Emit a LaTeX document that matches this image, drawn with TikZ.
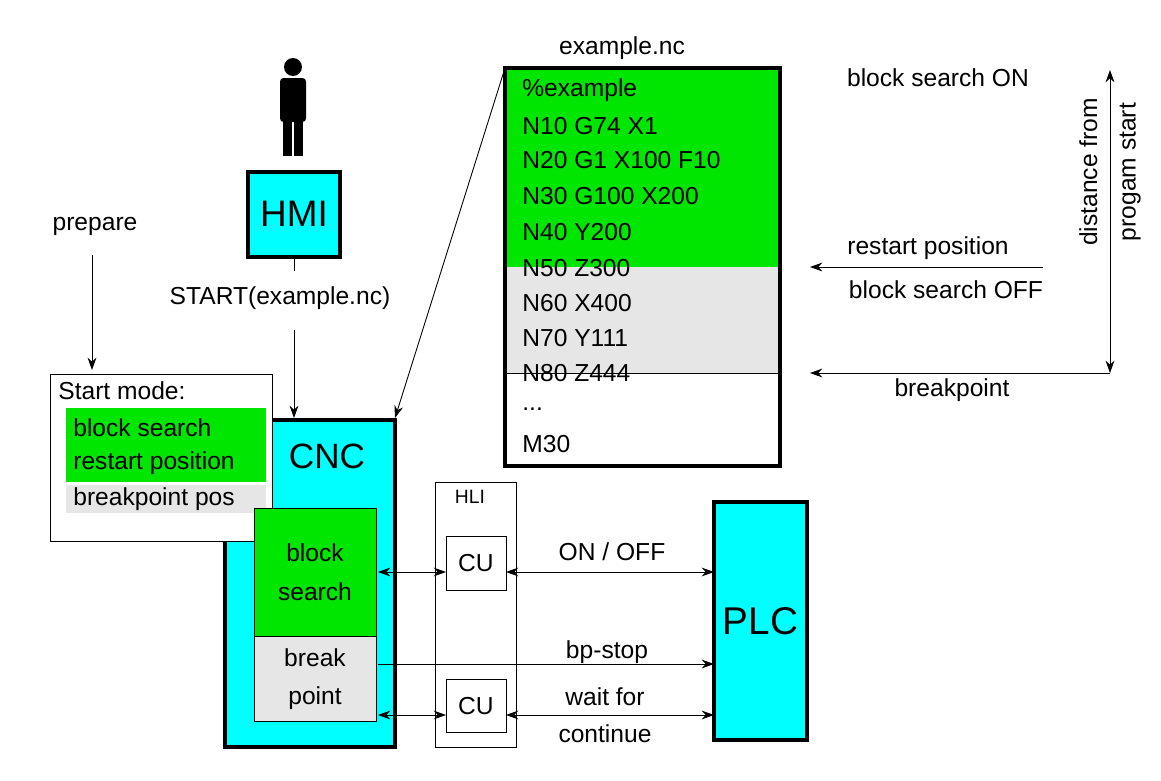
\documentclass[tikz,border=0pt]{standalone}
\usepackage{fontspec}
\setmainfont{Liberation Sans}
\usetikzlibrary{arrows.meta}
\definecolor{cy}{RGB}{0,255,255}
\definecolor{gr}{RGB}{0,230,0}
\definecolor{gy}{RGB}{230,230,230}
\begin{document}
\begin{tikzpicture}[x=0.02cm,y=-0.02cm,
  thick box/.style={draw,line width=2.2pt},
  thin box/.style={draw,line width=0.5pt},
  t/.style={font=\fontsize{14}{16}\selectfont,inner sep=0pt},
  arr/.style={-{Stealth[length=7pt,width=5pt]},line width=0.5pt},
  darr/.style={{Stealth[length=7pt,width=5pt]}-{Stealth[length=7pt,width=5pt]},line width=0.5pt}]
\useasboundingbox (0,0) rectangle (1161,781);
% person
\fill (293,67) circle (9);
\fill[rounded corners=2pt] (280,78) rectangle (306,122);
\fill (283,118) rectangle (292,156);
\fill (294,118) rectangle (303,156);
% HMI
\path[thick box,fill=cy] (248,172) rectangle (340,257);
\node[font=\fontsize{21}{24}\selectfont] (hmi) at (294,214) {HMI};
\coordinate (hb) at (294,257);
\coordinate (hb2) at (294,271);
\draw[line width=0.5pt] (hb) -- (hb2);
\node[t] (start) at (280,298) {START(example.nc)};
\coordinate (sa) at (294,330);
\coordinate (sb) at (294,418);
\draw[arr] (sa) -- (sb);
% prepare
\node[t] (prep) at (95,226) {prepare};
\coordinate (pa) at (92,255);
\coordinate (pb) at (92,370);
\draw[arr] (pa) -- (pb);
% CNC
\draw[thick box,fill=cy] (225,420) rectangle (395,747);
\node[font=\fontsize{20}{24}\selectfont] (cnc) at (327,456) {CNC};
% start mode
\draw[thin box,fill=white] (50,374) rectangle (272,541);
\node[t,anchor=west] (sm) at (58,391) {Start mode:};
\fill[gr] (66,408) rectangle (266,482);
\fill[gy] (66,485) rectangle (266,513);
\node[t,anchor=west] (bs) at (73,428) {block search};
\node[t,anchor=west] (rp) at (73,463) {restart position};
\node[t,anchor=west] (bp) at (73,499) {breakpoint pos};
% block search / break point
\draw[thin box,fill=gr] (254,508) rectangle (376,636);
\node[t,align=center] (bsb) at (315,572) {block\\[6pt]search};
\draw[thin box,fill=gy] (254,636) rectangle (376,721);
\node[t,align=center] (bpb) at (315,679) {break\\[6pt]point};
% HLI
\draw[thin box] (435,482) rectangle (516,747);
\node[font=\fontsize{11}{13}\selectfont] (hli) at (470,497) {HLI};
\node[thin box,minimum width=1.2cm,minimum height=1.08cm,font=\fontsize{14}{16}\selectfont] (cu1) at (476,563) {CU};
\node[thin box,minimum width=1.2cm,minimum height=1.06cm,font=\fontsize{14}{16}\selectfont] (cu2) at (476,706) {CU};
% PLC
\draw[thick box,fill=cy] (714,502) rectangle (807,740);
\node[font=\fontsize{22}{26}\selectfont] (plc) at (760.5,621) {PLC};
% connectors
\coordinate (c1a) at (378,572); \coordinate (c1b) at (446,572);
\draw[darr] (c1a) -- (c1b);
\coordinate (c2a) at (506,572); \coordinate (c2b) at (714,572);
\draw[darr] (c2a) -- (c2b);
\node[t] (onoff) at (612,552) {ON / OFF};
\coordinate (c3a) at (378,664); \coordinate (c3b) at (714,664);
\draw[arr] (c3a) -- (c3b);
\node[t] (bps) at (607,652) {bp-stop};
\coordinate (c4a) at (378,715); \coordinate (c4b) at (446,715);
\draw[darr] (c4a) -- (c4b);
\coordinate (c5a) at (506,715); \coordinate (c5b) at (714,715);
\draw[darr] (c5a) -- (c5b);
\node[t] (wf) at (605,697) {wait for};
\node[t] (ct) at (605,734) {continue};
% example.nc
\fill[gr] (505,68) rectangle (780,267);
\fill[gy] (505,267) rectangle (780,373);
\draw[line width=0.5pt] (505,373) -- (780,373);
\draw[thick box] (505,68) rectangle (780,466);
\node[t] (exl) at (622,48) {example.nc};
\foreach \s/\y in {{\%example}/90,{N10 G74 X1}/126,{N20 G1 X100 F10}/160,{N30 G100 X200}/196,{N40 Y200}/232,{N50 Z300}/268,{N60 X400}/303,{N70 Y111}/338,{N80 Z444}/373,{{...}}/409,{M30}/444}
  \node[t,anchor=west] at (522,\y) {\s};
\coordinate (ec) at (505,68);
\coordinate (ce) at (395,418);
\draw[arr] (ec) -- (ce);
% right annotations
\node[t] (bson) at (938,78) {block search ON};
\node[t] (rpos) at (928,248) {restart position};
\node[t] (bsoff) at (946,290) {block search OFF};
\node[t] (brk) at (952,390) {breakpoint};
\coordinate (r1) at (1043,267); \coordinate (r2) at (810,267);
\draw[arr] (r1) -- (r2);
\coordinate (b1) at (1110,373); \coordinate (b2) at (810,373);
\draw[arr] (b1) -- (b2);
\coordinate (v1) at (1110,70); \coordinate (v2) at (1110,373);
\draw[darr] (v1) -- (v2);
\node[t,rotate=90,align=center] (dist) at (1110,172) {distance from\\[6pt]progam start};
\end{tikzpicture}
\end{document}
